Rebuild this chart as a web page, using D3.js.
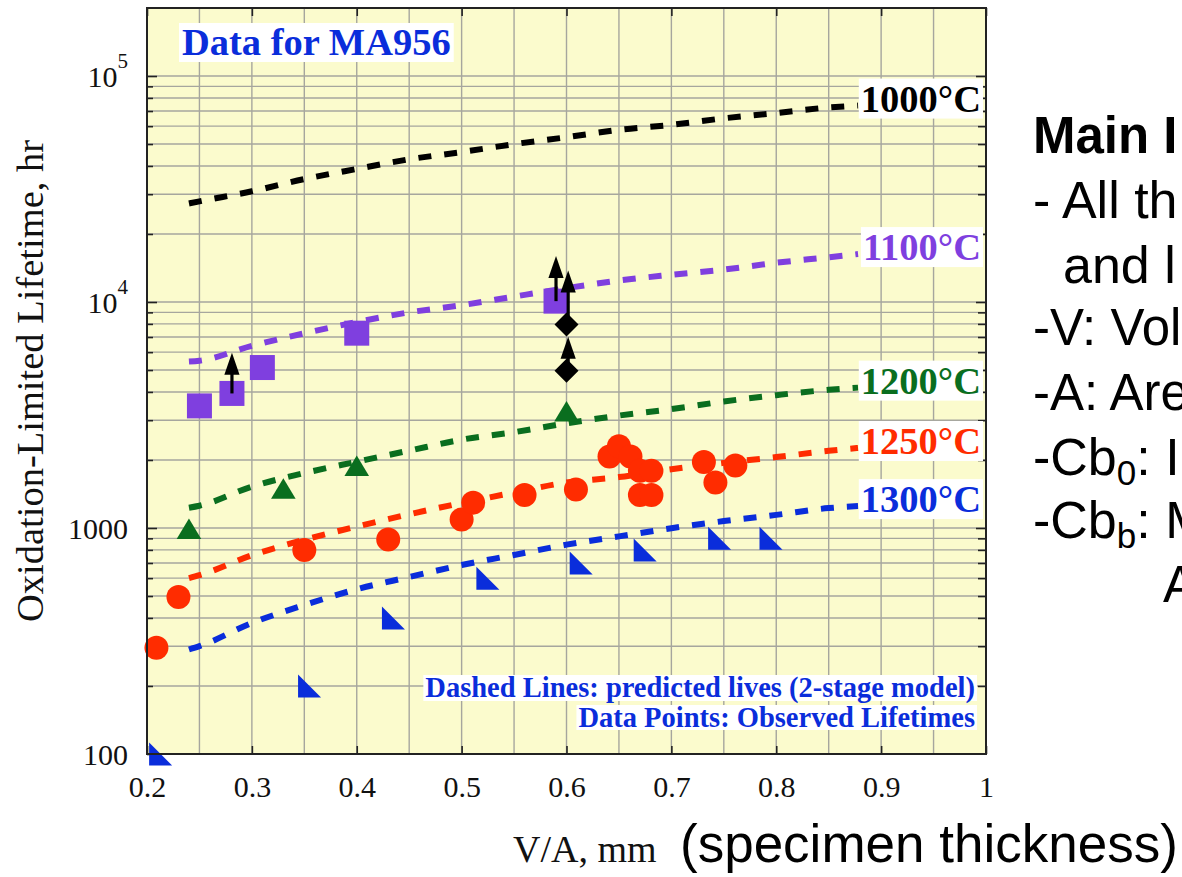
<!DOCTYPE html>
<html>
<head>
<meta charset="utf-8">
<script src="https://cdn.jsdelivr.net/npm/d3@7"></script>
<style>
  html, body { margin: 0; padding: 0; background: #fff; overflow: hidden; }
  svg { display: block; }
</style>
</head>
<body>
<svg id="chart" width="1182" height="877"></svg>
<script>
// ---- axis ticks -------------------------------------------------------
const xTicks = [0.2, 0.3, 0.4, 0.5, 0.6, 0.7, 0.8, 0.9, 1];
const xTickLabels = ["0.2", "0.3", "0.4", "0.5", "0.6", "0.7", "0.8", "0.9", "1"];
const xGrid = [0.25, 0.3, 0.35, 0.4, 0.45, 0.5, 0.55, 0.6, 0.65, 0.7, 0.75, 0.8, 0.85, 0.9, 0.95];
const yMajor = [100, 1000, 10000, 100000];
const yTickBase = ["100", "1000", "10", "10"];
const yTickExp = ["", "", "4", "5"];

// ---- predicted lives (2-stage model), hours vs V/A (mm) ---------------
const vaPred = [0.24, 0.25, 0.3, 0.35, 0.4, 0.45, 0.5, 0.55, 0.6, 0.65, 0.7, 0.75, 0.8, 0.85, 0.878];
const pred1000 = [27300, 27900, 30900, 35000, 38800, 42800, 46100, 49950, 53600, 57800, 60800, 65000, 68600, 72600, 74000];
const pred1100 = [5450, 5500, 6400, 7270, 8150, 9000, 9680, 10570, 11520, 12450, 13200, 13920, 14920, 15780, 16300];
const pred1200 = [1230, 1255, 1525, 1750, 1965, 2200, 2460, 2655, 2905, 3145, 3360, 3630, 3870, 4090, 4180];
const pred1250 = [600, 618, 758, 887, 1015, 1150, 1290, 1435, 1590, 1680, 1820, 1942, 2060, 2195, 2260];
const pred1300 = [290, 300, 380, 456, 536, 607, 686, 760, 844, 918, 998, 1073, 1143, 1225, 1250];

const tempLabels = ["1000°C", "1100°C", "1200°C", "1250°C", "1300°C"];
const tempColors = ["#000000", "#7f3fdf", "#0a6e1f", "#ff2c00", "#0a2ddb"];

// ---- observed lifetimes ----------------------------------------------
const va1100 = [0.25, 0.281, 0.31, 0.4, 0.59];
const life1100 = [3470, 3940, 5130, 7280, 10090];

const va1200 = [0.24, 0.33, 0.4, 0.6];
const life1200 = [990, 1490, 1880, 3275];

const va1250 = [0.209, 0.23, 0.35, 0.43, 0.5, 0.511, 0.56, 0.609, 0.641, 0.65, 0.661, 0.67, 0.681, 0.67, 0.681, 0.731, 0.742, 0.761];
const life1250 = [295, 495, 800, 890, 1090, 1295, 1400, 1480, 2070, 2300, 2070, 1790, 1790, 1400, 1400, 1960, 1590, 1890];

const va1300 = [0.213, 0.355, 0.435, 0.525, 0.614, 0.675, 0.746, 0.795];
const life1300 = [100, 200, 400, 600, 700, 800, 900, 900];

const va1000 = [0.6, 0.6];
const life1000 = [7960, 4970];

// run-out tests (still running): start value and arrow tip value
const arrowVa = [0.281, 0.59, 0.6016, 0.6016];
const arrowFrom = [3940, 10090, 7960, 4970];
const arrowTo = [5970, 16000, 13770, 7015];

// ---- layout -----------------------------------------------------------
const W = 1182, H = 877;
const plot = { left: 147, right: 986, top: 8, bottom: 754 };
const serif = "'Liberation Serif', 'Times New Roman', Times, serif";
const sans = "'Liberation Sans', Arial, Helvetica, sans-serif";

const x = d3.scaleLinear().domain([0.2, 1]).range([plot.left, plot.right]);
const y = d3.scaleLog().domain([100, 2e5]).range([plot.bottom, plot.top]);

const svg = d3.select("#chart");
svg.append("rect").attr("width", W).attr("height", H).attr("fill", "#fff");
svg.append("rect")
  .attr("x", plot.left).attr("y", plot.top)
  .attr("width", plot.right - plot.left).attr("height", plot.bottom - plot.top)
  .attr("fill", "#fbfbcd");

// minor log values 2..9 per decade, plus decades, up to 1e5
const yMinor = [];
[100, 1000, 10000].forEach(d => { for (let k = 2; k <= 9; k++) yMinor.push(k * d); });
const yGrid = yMinor.concat([1000, 10000, 100000]);

// ---- grid -------------------------------------------------------------
const grid = svg.append("g").attr("stroke", "#a6a69e").attr("stroke-width", 1.4);
grid.selectAll("line.v").data(xGrid).join("line")
  .attr("x1", d => x(d)).attr("x2", d => x(d))
  .attr("y1", plot.top).attr("y2", plot.bottom);
grid.selectAll("line.h").data(yGrid).join("line")
  .attr("x1", plot.left).attr("x2", plot.right)
  .attr("y1", d => y(d)).attr("y2", d => y(d));

// ---- axes (inward ticks on all four sides) ----------------------------
function styleAxis(g) {
  g.select(".domain").remove();
  g.selectAll(".tick line").attr("stroke", "#222").attr("stroke-width", 1.6);
}
svg.append("g").attr("transform", `translate(0,${plot.bottom})`)
  .call(d3.axisBottom(x).tickValues(xTicks).tickSize(-8).tickPadding(22)
    .tickFormat((d, i) => xTickLabels[i]))
  .call(styleAxis)
  .call(g => g.selectAll(".tick text")
    .attr("font-family", serif).attr("font-size", 30).attr("fill", "#111"));
svg.append("g").attr("transform", `translate(0,${plot.top})`)
  .call(d3.axisTop(x).tickValues(xTicks).tickSize(-8).tickFormat(""))
  .call(styleAxis);

svg.append("g").attr("transform", `translate(${plot.left},0)`)
  .call(d3.axisLeft(y).tickValues(yMinor).tickSize(-6).tickFormat(""))
  .call(styleAxis);
const gLeft = svg.append("g").attr("transform", `translate(${plot.left},0)`)
  .call(d3.axisLeft(y).tickValues(yMajor).tickSize(-10).tickPadding(19).tickFormat(""))
  .call(styleAxis);
gLeft.selectAll(".tick text").each(function (d, i) {
  const t = d3.select(this)
    .attr("font-family", serif).attr("font-size", 30).attr("fill", "#111")
    .attr("dy", null).attr("y", 10);
  t.append("tspan").text(yTickBase[i]);
  if (yTickExp[i]) t.append("tspan").attr("font-size", 21).attr("dy", -19).text(yTickExp[i]);
});
svg.append("g").attr("transform", `translate(${plot.right},0)`)
  .call(d3.axisRight(y).tickValues(yMinor).tickSize(-8).tickFormat(""))
  .call(styleAxis);
svg.append("g").attr("transform", `translate(${plot.right},0)`)
  .call(d3.axisRight(y).tickValues(yMajor.slice(1)).tickSize(-10).tickFormat(""))
  .call(styleAxis);

// ---- predicted-life curves -------------------------------------------
const preds = [pred1000, pred1100, pred1200, pred1250, pred1300];
const line = d3.line().x(d => x(d[0])).y(d => y(d[1])).curve(d3.curveMonotoneX);
preds.forEach((vals, i) => {
  svg.append("path")
    .datum(vaPred.map((v, j) => [v, vals[j]]))
    .attr("d", line)
    .attr("fill", "none")
    .attr("stroke", tempColors[i])
    .attr("stroke-width", 6)
    .attr("stroke-dasharray", "13,13");
});

// ---- observed points --------------------------------------------------
const pts = (va, life) => va.map((v, i) => [x(v), y(life[i])]);

// 1100 °C squares
svg.append("g").selectAll("rect").data(pts(va1100, life1100)).join("rect")
  .attr("x", d => d[0] - 12.5).attr("y", d => d[1] - 12.5)
  .attr("width", 25).attr("height", 25).attr("fill", tempColors[1]);

// 1200 °C triangles
svg.append("g").selectAll("path").data(pts(va1200, life1200)).join("path")
  .attr("d", d => `M${d[0]},${d[1] - 10.5}L${d[0] + 12.3},${d[1] + 10}L${d[0] - 12.3},${d[1] + 10}Z`)
  .attr("fill", tempColors[2]);

// 1250 °C circles
svg.append("g").selectAll("circle").data(pts(va1250, life1250)).join("circle")
  .attr("cx", d => d[0]).attr("cy", d => d[1]).attr("r", 12)
  .attr("fill", tempColors[3]);

// 1300 °C right triangles
svg.append("g").selectAll("path").data(pts(va1300, life1300)).join("path")
  .attr("d", d => `M${d[0] - 11.5},${d[1] - 11.5}L${d[0] - 11.5},${d[1] + 11.5}L${d[0] + 11.5},${d[1] + 11.5}Z`)
  .attr("fill", tempColors[4]);

// 1000 °C diamonds
svg.append("g").selectAll("path").data(pts(va1000, life1000)).join("path")
  .attr("d", d => `M${d[0]},${d[1] - 12}L${d[0] + 12},${d[1]}L${d[0]},${d[1] + 12}L${d[0] - 12},${d[1]}Z`)
  .attr("fill", "#000");

// run-out arrows
const arrows = svg.append("g");
arrowVa.forEach((v, i) => {
  const ax = x(v), y0 = y(arrowFrom[i]), y1 = y(arrowTo[i]);
  arrows.append("line")
    .attr("x1", ax).attr("x2", ax).attr("y1", y0).attr("y2", y1 + 18)
    .attr("stroke", "#000").attr("stroke-width", 3.2);
  arrows.append("path")
    .attr("d", `M${ax},${y1}L${ax + 7.6},${y1 + 22}L${ax - 7.6},${y1 + 22}Z`)
    .attr("fill", "#000");
});

// ---- text boxes ------------------------------------------------------
function boxedText(g, txt, xPos, yPos, anchor, size, color, pad) {
  const t = g.append("text")
    .attr("x", xPos).attr("y", yPos)
    .attr("text-anchor", anchor)
    .attr("font-family", serif).attr("font-weight", "bold")
    .attr("font-size", size).attr("fill", color)
    .text(txt);
  const b = t.node().getBBox();
  g.insert("rect", "text")
    .attr("x", b.x - pad[0]).attr("y", b.y + pad[1])
    .attr("width", b.width + 2 * pad[0]).attr("height", b.height - pad[1] - pad[2])
    .attr("fill", "#fff");
  g.append(() => t.node());
}

tempLabels.forEach((lab, i) => {
  const g = svg.append("g");
  boxedText(g, lab, 981, y(preds[i][preds[i].length - 1]) + 6, "end", 38.5, tempColors[i], [2, 1, 1]);
});

boxedText(svg.append("g"), "Data for MA956", 182, 55, "start", 38.5, "#0a2ddb", [3, 2, 1]);
boxedText(svg.append("g"), "Dashed Lines: predicted lives (2-stage model)", 975, 697, "end", 28.5, "#0a2ddb", [2, 3, 3]);
boxedText(svg.append("g"), "Data Points: Observed Lifetimes", 975, 727, "end", 28.5, "#0a2ddb", [2, 3, 3]);

// frame
svg.append("rect")
  .attr("x", plot.left).attr("y", plot.top)
  .attr("width", plot.right - plot.left).attr("height", plot.bottom - plot.top)
  .attr("fill", "none").attr("stroke", "#222").attr("stroke-width", 2);

// ---- axis titles -----------------------------------------------------
svg.append("text")
  .attr("transform", "translate(43,381) rotate(-90)")
  .attr("text-anchor", "middle")
  .attr("font-family", serif).attr("font-size", 38.5).attr("fill", "#111")
  .text("Oxidation-Limited Lifetime, hr");

svg.append("text")
  .attr("x", 513).attr("y", 862)
  .attr("font-family", serif).attr("font-size", 38).attr("fill", "#111")
  .text("V/A, mm");
svg.append("text")
  .attr("x", 680).attr("y", 862)
  .attr("font-family", sans).attr("font-size", 53).attr("fill", "#000")
  .text("(specimen thickness)");

// ---- side notes ------------------------------------------------------
const notes = svg.append("g").attr("font-family", sans).attr("fill", "#000");
notes.append("text").attr("x", 1033).attr("y", 153)
  .attr("font-size", 51).attr("font-weight", "bold").text("Main I");
notes.append("text").attr("x", 1033).attr("y", 218).attr("font-size", 52).text("- All th");
notes.append("text").attr("x", 1063).attr("y", 283).attr("font-size", 52).text("and l");
notes.append("text").attr("x", 1033).attr("y", 345).attr("font-size", 51).text("-V: Vol");
notes.append("text").attr("x", 1033).attr("y", 410).attr("font-size", 51).text("-A: Are");
const cb0 = notes.append("text").attr("x", 1033).attr("y", 475).attr("font-size", 52);
cb0.append("tspan").text("-Cb");
cb0.append("tspan").attr("font-size", 35).attr("dy", 10).text("0");
cb0.append("tspan").attr("dy", -10).text(": I");
const cbb = notes.append("text").attr("x", 1033).attr("y", 538).attr("font-size", 52);
cbb.append("tspan").text("-Cb");
cbb.append("tspan").attr("font-size", 35).attr("dy", 10).text("b");
cbb.append("tspan").attr("dy", -10).text(": M");
notes.append("text").attr("x", 1163).attr("y", 602).attr("font-size", 51).text("A");
</script>
</body>
</html>
